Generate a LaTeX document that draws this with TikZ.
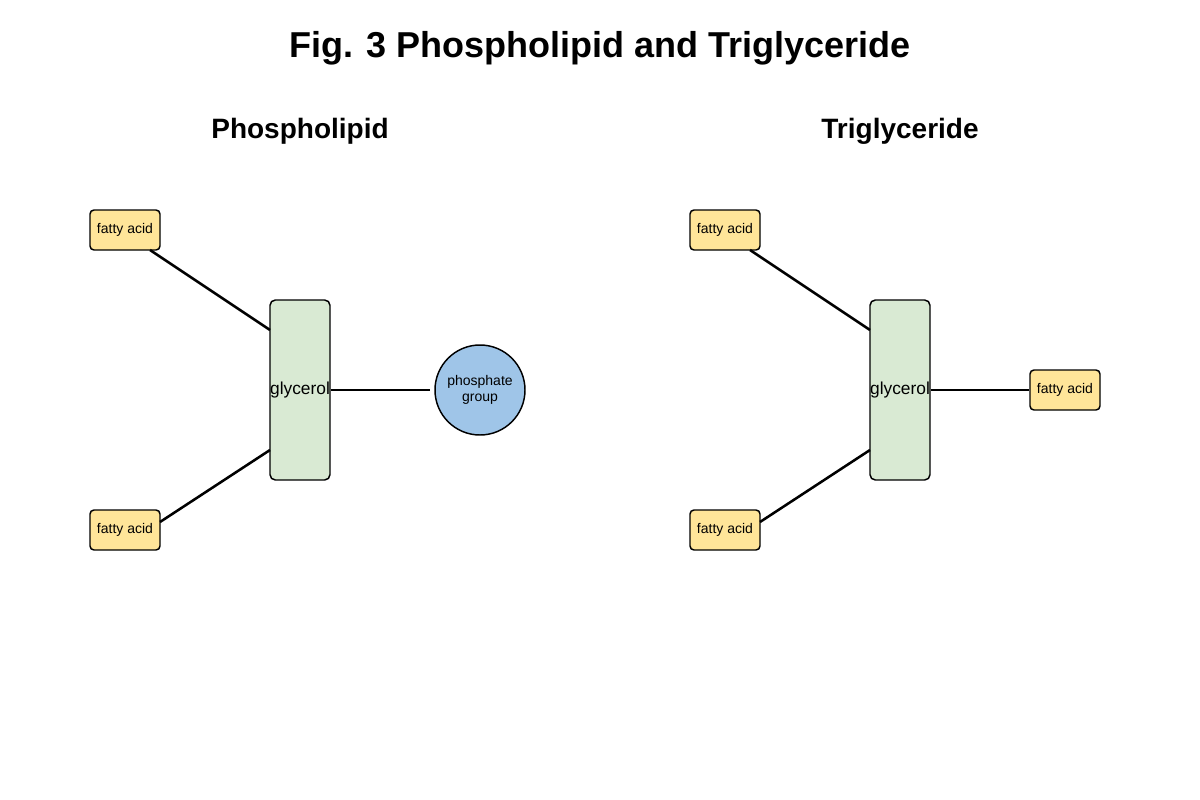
\documentclass[tikz,border=0pt]{standalone}
\usepackage{fontspec}
\setmainfont{Liberation Sans}
\definecolor{fa}{HTML}{FFE599}
\definecolor{gl}{HTML}{D9EAD3}
\definecolor{ph}{HTML}{9FC5E8}
\begin{document}
\begin{tikzpicture}[x=0.75pt,y=-0.75pt,
  fatty/.style={draw,line width=1.1pt,fill=fa,rounded corners=3pt,minimum width=52.5pt,minimum height=30pt,inner sep=0pt,font=\fontsize{10.5}{12}\selectfont},
  glyc/.style={draw,line width=1.1pt,fill=gl,rounded corners=4pt,minimum width=45pt,minimum height=135pt,inner sep=0pt,font=\fontsize{13}{15}\selectfont},
  phos/.style={draw,line width=1.1pt,fill=ph,circle,minimum size=67.5pt,inner sep=0pt,align=center,font=\fontsize{10.5}{12}\selectfont},
  link/.style={line width=1.9pt},
  head/.style={font=\bfseries\fontsize{21}{24}\selectfont}]
\useasboundingbox (0,0) rectangle (1200,800);
\node[font=\bfseries\fontsize{27}{30}\selectfont] (title) at (600,48) {Fig. 3 Phospholipid and Triglyceride};
\node[head] (h1) at (300,131) {Phospholipid};
\node[head] (h2) at (900,131) {Triglyceride};
% phospholipid
\node[fatty] (a1) at (125,230) {fatty acid};
\node[fatty] (a2) at (125,530) {fatty acid};
\node[glyc] (g1) at (300,390) {glycerol};
\node[phos] (p1) at (480,390) {phosphate\\group};
\coordinate (a1e) at (150,250); \coordinate (g1t) at (270,330);
\coordinate (a2e) at (160,522); \coordinate (g1b) at (270,450);
\coordinate (p1w) at (430,390);
\draw[link] (a1e) -- (g1t);
\draw[link] (a2e) -- (g1b);
\draw[link] (g1.east) -- (p1w);
% triglyceride
\node[fatty] (b1) at (725,230) {fatty acid};
\node[fatty] (b2) at (725,530) {fatty acid};
\node[glyc] (g2) at (900,390) {glycerol};
\node[fatty] (b3) at (1065,390) {fatty acid};
\coordinate (b1e) at (750,250); \coordinate (g2t) at (870,330);
\coordinate (b2e) at (760,522); \coordinate (g2b) at (870,450);
\draw[link] (b1e) -- (g2t);
\draw[link] (b2e) -- (g2b);
\draw[link] (g2.east) -- (b3.west);
\end{tikzpicture}
\end{document}
